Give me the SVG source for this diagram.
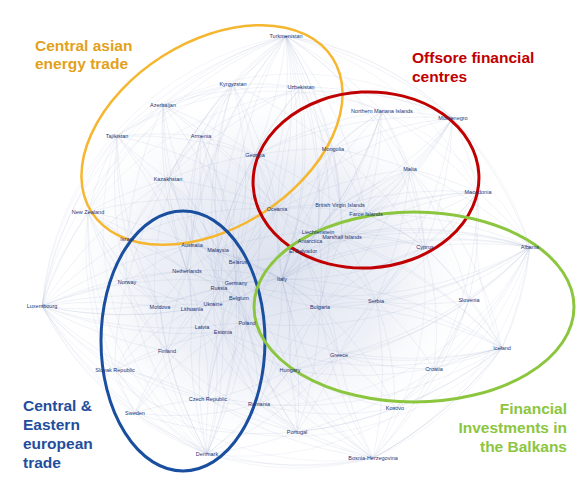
<svg xmlns="http://www.w3.org/2000/svg" width="581" height="478" viewBox="0 0 581 478">
<style>
.e path{fill:none;stroke:#8495C2;stroke-width:.5;stroke-opacity:.25}
.e .o{stroke-opacity:.18}
.lbl{font-family:"Liberation Sans",Arial,sans-serif;font-size:5.5px;fill:#1F3575;text-anchor:middle}
.ttl{font-family:"Liberation Sans",Arial,sans-serif;font-size:15.5px;font-weight:bold}
.ring{fill:none}
</style>
<defs>
<radialGradient id="haze" cx="0.5" cy="0.5" r="0.5">
<stop offset="0" stop-color="#C3CCE2" stop-opacity=".6"/>
<stop offset=".55" stop-color="#D3DAEA" stop-opacity=".4"/>
<stop offset="1" stop-color="#FFFFFF" stop-opacity="0"/>
</radialGradient>
</defs>
<rect width="581" height="478" fill="#FFFFFF"/>
<ellipse cx="270" cy="270" rx="220" ry="190" fill="url(#haze)"/>
<g id="connectors" class="e">
<path d="M286 36A400 400 0 0 1 233 84"/><path d="M286 36A400 400 0 0 1 301 87"/><path d="M286 36A400 400 0 0 0 163 105"/><path d="M286 36A400 400 0 0 0 201 136"/><path d="M286 36A400 400 0 0 1 255 155"/><path d="M286 36A400 400 0 0 1 333 149"/><path d="M286 36A400 400 0 0 0 168 179"/><path d="M286 36A400 400 0 0 1 277 209"/><path d="M286 36A400 400 0 0 0 192 245"/><path d="M286 36A400 400 0 0 1 238 262"/><path d="M286 36A400 400 0 0 0 236 283"/><path d="M286 36A400 400 0 0 1 282 279"/><path d="M286 36A400 400 0 0 0 219 288"/><path d="M286 36A400 400 0 0 1 410 169"/><path d="M286 36A400 400 0 0 1 340 205"/><path d="M286 36A400 400 0 0 0 187 271"/><path d="M286 36A400 400 0 0 0 117 136"/><path d="M286 36A400 400 0 0 0 88 212"/><path d="M286 36A400 400 0 0 1 247 323"/><path d="M286 36A400 400 0 0 1 320 307"/><path d="M286 36A400 400 0 0 1 382 111"/><path d="M286 36A400 400 0 0 1 453 118"/><path d="M286 36A400 400 0 0 1 318 232"/><path d="M286 36A400 400 0 0 1 366 214"/>
<path d="M530 247A400 400 0 0 0 425 247"/><path d="M530 247A400 400 0 0 1 469 300"/><path d="M530 247A400 400 0 0 0 478 192"/><path d="M530 247A400 400 0 0 0 410 169"/><path d="M530 247A400 400 0 0 1 376 301"/><path d="M530 247A400 400 0 0 1 320 307"/><path d="M530 247A400 400 0 0 0 282 279"/><path d="M530 247A400 400 0 0 1 339 355"/><path d="M530 247A400 400 0 0 1 434 369"/><path d="M530 247A400 400 0 0 1 502 348"/><path d="M530 247A400 400 0 0 0 366 214"/><path d="M530 247A400 400 0 0 0 342 237"/><path d="M530 247A400 400 0 0 1 236 283"/><path d="M530 247A400 400 0 0 1 290 370"/><path d="M530 247A400 400 0 0 1 395 408"/><path d="M530 247A400 400 0 0 0 453 118"/><path d="M530 247A400 400 0 0 0 239 298"/><path d="M530 247A400 400 0 0 1 247 323"/><path d="M530 247A400 400 0 0 0 303 251"/><path d="M530 247A400 400 0 0 0 310 241"/>
<path d="M42 306A400 400 0 0 1 88 212"/><path d="M42 306A400 400 0 0 1 127 282"/><path d="M42 306A400 400 0 0 1 160 307"/><path d="M42 306A400 400 0 0 1 187 271"/><path d="M42 306A400 400 0 0 1 192 245"/><path d="M42 306A400 400 0 0 0 192 309"/><path d="M42 306A400 400 0 0 0 202 327"/><path d="M42 306A400 400 0 0 0 167 351"/><path d="M42 306A400 400 0 0 0 115 370"/><path d="M42 306A400 400 0 0 0 135 413"/><path d="M42 306A400 400 0 0 1 127 239"/><path d="M42 306A400 400 0 0 1 236 283"/><path d="M42 306A400 400 0 0 0 219 288"/><path d="M42 306A400 400 0 0 0 208 399"/><path d="M42 306A400 400 0 0 1 117 136"/><path d="M42 306A400 400 0 0 1 168 179"/><path d="M42 306A400 400 0 0 0 207 454"/><path d="M42 306A400 400 0 0 0 239 298"/><path d="M42 306A400 400 0 0 1 213 304"/><path d="M42 306A400 400 0 0 0 223 332"/>
<path d="M502 348A400 400 0 0 0 434 369"/><path d="M502 348A400 400 0 0 0 469 300"/><path d="M502 348A400 400 0 0 0 425 247"/><path d="M502 348A400 400 0 0 0 376 301"/><path d="M502 348A400 400 0 0 1 339 355"/><path d="M502 348A400 400 0 0 0 320 307"/><path d="M502 348A400 400 0 0 1 290 370"/><path d="M502 348A400 400 0 0 1 395 408"/><path d="M502 348A400 400 0 0 0 282 279"/><path d="M502 348A400 400 0 0 0 318 232"/><path d="M502 348A400 400 0 0 1 259 404"/><path d="M502 348A400 400 0 0 1 297 432"/><path d="M502 348A400 400 0 0 0 410 169"/><path d="M502 348A400 400 0 0 1 373 458"/><path d="M502 348A400 400 0 0 1 247 323"/><path d="M502 348A400 400 0 0 1 223 332"/><path d="M502 348A400 400 0 0 0 342 237"/>
<path d="M207 454A400 400 0 0 1 135 413"/><path d="M207 454A400 400 0 0 1 208 399"/><path d="M207 454A400 400 0 0 0 259 404"/><path d="M207 454A400 400 0 0 1 167 351"/><path d="M207 454A400 400 0 0 1 115 370"/><path d="M207 454A400 400 0 0 1 202 327"/><path d="M207 454A400 400 0 0 0 223 332"/><path d="M207 454A400 400 0 0 0 247 323"/><path d="M207 454A400 400 0 0 0 290 370"/><path d="M207 454A400 400 0 0 1 192 309"/><path d="M207 454A400 400 0 0 0 213 304"/><path d="M207 454A400 400 0 0 1 160 307"/><path d="M207 454A400 400 0 0 0 297 432"/><path d="M207 454A400 400 0 0 0 236 283"/><path d="M207 454A400 400 0 0 0 239 298"/><path d="M207 454A400 400 0 0 1 127 282"/><path d="M207 454A400 400 0 0 0 339 355"/><path d="M207 454A400 400 0 0 0 373 458"/>
<path d="M373 458A400 400 0 0 1 297 432"/><path d="M373 458A400 400 0 0 0 395 408"/><path d="M373 458A400 400 0 0 0 434 369"/><path d="M373 458A400 400 0 0 1 339 355"/><path d="M373 458A400 400 0 0 1 290 370"/><path d="M373 458A400 400 0 0 1 259 404"/><path d="M373 458A400 400 0 0 0 376 301"/><path d="M373 458A400 400 0 0 1 320 307"/><path d="M373 458A400 400 0 0 1 282 279"/><path d="M373 458A400 400 0 0 1 208 399"/><path d="M373 458A400 400 0 0 0 502 348"/><path d="M373 458A400 400 0 0 0 469 300"/><path d="M373 458A400 400 0 0 1 247 323"/><path d="M373 458A400 400 0 0 1 223 332"/><path d="M373 458A400 400 0 0 1 239 298"/>
<path d="M297 432A400 400 0 0 1 259 404"/><path d="M297 432A400 400 0 0 0 290 370"/><path d="M297 432A400 400 0 0 1 208 399"/><path d="M297 432A400 400 0 0 0 339 355"/><path d="M297 432A400 400 0 0 0 395 408"/><path d="M297 432A400 400 0 0 1 223 332"/><path d="M297 432A400 400 0 0 1 202 327"/><path d="M297 432A400 400 0 0 0 320 307"/><path d="M297 432A400 400 0 0 0 282 279"/><path d="M297 432A400 400 0 0 1 247 323"/><path d="M297 432A400 400 0 0 1 135 413"/><path d="M297 432A400 400 0 0 1 167 351"/><path d="M297 432A400 400 0 0 1 239 298"/><path d="M297 432A400 400 0 0 0 434 369"/>
<path d="M453 118A400 400 0 0 0 382 111"/><path d="M453 118A400 400 0 0 1 410 169"/><path d="M453 118A400 400 0 0 0 333 149"/><path d="M453 118A400 400 0 0 1 478 192"/><path d="M453 118A400 400 0 0 1 340 205"/><path d="M453 118A400 400 0 0 1 366 214"/><path d="M453 118A400 400 0 0 1 425 247"/><path d="M453 118A400 400 0 0 1 342 237"/><path d="M453 118A400 400 0 0 1 318 232"/><path d="M453 118A400 400 0 0 0 277 209"/><path d="M453 118A400 400 0 0 0 255 155"/><path d="M453 118A400 400 0 0 0 301 87"/><path d="M453 118A400 400 0 0 1 282 279"/><path d="M453 118A400 400 0 0 1 376 301"/>
<path d="M382 111A400 400 0 0 0 333 149"/><path d="M382 111A400 400 0 0 1 410 169"/><path d="M382 111A400 400 0 0 0 301 87"/><path d="M382 111A400 400 0 0 0 255 155"/><path d="M382 111A400 400 0 0 1 340 205"/><path d="M382 111A400 400 0 0 1 366 214"/><path d="M382 111A400 400 0 0 0 277 209"/><path d="M382 111A400 400 0 0 1 318 232"/><path d="M382 111A400 400 0 0 1 342 237"/><path d="M382 111A400 400 0 0 1 425 247"/><path d="M382 111A400 400 0 0 1 478 192"/><path d="M382 111A400 400 0 0 0 282 279"/><path d="M382 111A400 400 0 0 1 310 241"/>
<path d="M478 192A400 400 0 0 0 410 169"/><path d="M478 192A400 400 0 0 1 425 247"/><path d="M478 192A400 400 0 0 0 366 214"/><path d="M478 192A400 400 0 0 1 342 237"/><path d="M478 192A400 400 0 0 0 340 205"/><path d="M478 192A400 400 0 0 1 469 300"/><path d="M478 192A400 400 0 0 1 376 301"/><path d="M478 192A400 400 0 0 1 320 307"/><path d="M478 192A400 400 0 0 0 282 279"/><path d="M478 192A400 400 0 0 1 434 369"/><path d="M478 192A400 400 0 0 0 318 232"/>
<path d="M117 136A400 400 0 0 1 163 105"/><path d="M117 136A400 400 0 0 1 201 136"/><path d="M117 136A400 400 0 0 0 168 179"/><path d="M117 136A400 400 0 0 1 233 84"/><path d="M117 136A400 400 0 0 0 88 212"/><path d="M117 136A400 400 0 0 0 127 239"/><path d="M117 136A400 400 0 0 1 192 245"/><path d="M117 136A400 400 0 0 0 127 282"/><path d="M117 136A400 400 0 0 1 187 271"/><path d="M117 136A400 400 0 0 1 255 155"/><path d="M117 136A400 400 0 0 0 160 307"/><path d="M117 136A400 400 0 0 1 277 209"/>
<path d="M163 105A400 400 0 0 1 201 136"/><path d="M163 105A400 400 0 0 1 233 84"/><path d="M163 105A400 400 0 0 0 168 179"/><path d="M163 105A400 400 0 0 1 255 155"/><path d="M163 105A400 400 0 0 0 192 245"/><path d="M163 105A400 400 0 0 1 277 209"/><path d="M163 105A400 400 0 0 1 238 262"/><path d="M163 105A400 400 0 0 0 218 250"/><path d="M163 105A400 400 0 0 0 187 271"/><path d="M163 105A400 400 0 0 1 301 87"/><path d="M163 105A400 400 0 0 0 127 239"/>
<path d="M233 84A400 400 0 0 0 201 136"/><path d="M233 84A400 400 0 0 1 255 155"/><path d="M233 84A400 400 0 0 1 301 87"/><path d="M233 84A400 400 0 0 0 168 179"/><path d="M233 84A400 400 0 0 1 333 149"/><path d="M233 84A400 400 0 0 1 277 209"/><path d="M233 84A400 400 0 0 0 192 245"/><path d="M233 84A400 400 0 0 0 218 250"/><path d="M233 84A400 400 0 0 1 238 262"/><path d="M233 84A400 400 0 0 0 219 288"/>
<path d="M301 87A400 400 0 0 0 255 155"/><path d="M301 87A400 400 0 0 1 333 149"/><path d="M301 87A400 400 0 0 0 277 209"/><path d="M301 87A400 400 0 0 0 168 179"/><path d="M301 87A400 400 0 0 0 201 136"/><path d="M301 87A400 400 0 0 1 340 205"/><path d="M301 87A400 400 0 0 1 318 232"/><path d="M301 87A400 400 0 0 0 218 250"/><path d="M301 87A400 400 0 0 1 282 279"/>
<path d="M201 136A400 400 0 0 1 255 155"/><path d="M201 136A400 400 0 0 0 168 179"/><path d="M201 136A400 400 0 0 0 192 245"/><path d="M201 136A400 400 0 0 1 218 250"/><path d="M201 136A400 400 0 0 0 187 271"/><path d="M201 136A400 400 0 0 1 238 262"/><path d="M201 136A400 400 0 0 1 277 209"/><path d="M201 136A400 400 0 0 0 219 288"/><path d="M201 136A400 400 0 0 1 236 283"/><path d="M201 136A400 400 0 0 0 127 239"/>
<path d="M255 155A400 400 0 0 0 168 179"/><path d="M255 155A400 400 0 0 1 277 209"/><path d="M255 155A400 400 0 0 1 333 149"/><path d="M255 155A400 400 0 0 0 218 250"/><path d="M255 155A400 400 0 0 1 238 262"/><path d="M255 155A400 400 0 0 0 236 283"/><path d="M255 155A400 400 0 0 1 282 279"/><path d="M255 155A400 400 0 0 1 318 232"/><path d="M255 155A400 400 0 0 1 340 205"/><path d="M255 155A400 400 0 0 0 219 288"/><path d="M255 155A400 400 0 0 1 247 323"/>
<path d="M168 179A400 400 0 0 0 127 239"/><path d="M168 179A400 400 0 0 1 192 245"/><path d="M168 179A400 400 0 0 0 187 271"/><path d="M168 179A400 400 0 0 1 218 250"/><path d="M168 179A400 400 0 0 1 277 209"/><path d="M168 179A400 400 0 0 1 219 288"/><path d="M168 179A400 400 0 0 0 127 282"/><path d="M168 179A400 400 0 0 1 238 262"/><path d="M168 179A400 400 0 0 0 236 283"/><path d="M168 179A400 400 0 0 0 88 212"/>
<path d="M88 212A400 400 0 0 1 127 239"/><path d="M88 212A400 400 0 0 1 192 245"/><path d="M88 212A400 400 0 0 0 127 282"/><path d="M88 212A400 400 0 0 1 187 271"/><path d="M88 212A400 400 0 0 0 160 307"/><path d="M88 212A400 400 0 0 1 192 309"/><path d="M88 212A400 400 0 0 1 277 209"/><path d="M88 212A400 400 0 0 0 167 351"/><path d="M88 212A400 400 0 0 0 115 370"/>
<path d="M333 149A400 400 0 0 1 410 169"/><path d="M333 149A400 400 0 0 1 340 205"/><path d="M333 149A400 400 0 0 0 277 209"/><path d="M333 149A400 400 0 0 0 318 232"/><path d="M333 149A400 400 0 0 1 366 214"/><path d="M333 149A400 400 0 0 1 342 237"/><path d="M333 149A400 400 0 0 0 282 279"/><path d="M333 149A400 400 0 0 0 303 251"/><path d="M333 149A400 400 0 0 1 425 247"/>
<path d="M410 169A400 400 0 0 0 340 205"/><path d="M410 169A400 400 0 0 1 366 214"/><path d="M410 169A400 400 0 0 1 425 247"/><path d="M410 169A400 400 0 0 0 342 237"/><path d="M410 169A400 400 0 0 0 318 232"/><path d="M410 169A400 400 0 0 0 277 209"/><path d="M410 169A400 400 0 0 1 282 279"/><path d="M410 169A400 400 0 0 1 376 301"/><path d="M410 169A400 400 0 0 1 469 300"/><path d="M410 169A400 400 0 0 1 320 307"/>
<path d="M192 245A300 300 0 0 1 218 250"/><path d="M192 245A300 300 0 0 1 238 262"/><path d="M192 245A300 300 0 0 0 187 271"/><path d="M192 245A300 300 0 0 1 236 283"/><path d="M192 245A300 300 0 0 0 219 288"/><path d="M192 245A300 300 0 0 1 282 279"/><path d="M192 245A300 300 0 0 1 277 209"/><path d="M192 245A300 300 0 0 0 127 282"/><path d="M192 245A300 300 0 0 0 192 309"/><path d="M192 245A300 300 0 0 1 247 323"/><path d="M192 245A300 300 0 0 1 320 307"/>
<path d="M218 250A300 300 0 0 1 238 262"/><path d="M218 250A300 300 0 0 1 236 283"/><path d="M218 250A300 300 0 0 0 277 209"/><path d="M218 250A300 300 0 0 1 282 279"/><path d="M218 250A300 300 0 0 0 187 271"/><path d="M218 250A300 300 0 0 0 213 304"/><path d="M218 250A300 300 0 0 1 318 232"/><path d="M218 250A300 300 0 0 1 223 332"/>
<path d="M238 262A300 300 0 0 1 236 283"/><path d="M238 262A300 300 0 0 0 219 288"/><path d="M238 262A300 300 0 0 1 239 298"/><path d="M238 262A300 300 0 0 1 282 279"/><path d="M238 262A300 300 0 0 1 247 323"/><path d="M238 262A300 300 0 0 0 277 209"/><path d="M238 262A300 300 0 0 0 213 304"/><path d="M238 262A300 300 0 0 0 303 251"/>
<path d="M187 271A300 300 0 0 1 236 283"/><path d="M187 271A300 300 0 0 1 239 298"/><path d="M187 271A300 300 0 0 1 219 288"/><path d="M187 271A300 300 0 0 0 127 282"/><path d="M187 271A300 300 0 0 0 160 307"/><path d="M187 271A300 300 0 0 1 192 309"/><path d="M187 271A300 300 0 0 0 167 351"/><path d="M187 271A300 300 0 0 1 282 279"/><path d="M187 271A300 300 0 0 1 202 327"/>
<path d="M236 283A300 300 0 0 0 219 288"/><path d="M236 283A300 300 0 0 1 239 298"/><path d="M236 283A300 300 0 0 1 247 323"/><path d="M236 283A300 300 0 0 0 282 279"/><path d="M236 283A300 300 0 0 0 213 304"/><path d="M236 283A300 300 0 0 1 223 332"/><path d="M236 283A300 300 0 0 1 290 370"/><path d="M236 283A300 300 0 0 0 320 307"/><path d="M236 283A300 300 0 0 0 318 232"/><path d="M236 283A300 300 0 0 0 277 209"/><path d="M236 283A300 300 0 0 0 208 399"/>
<path d="M219 288A300 300 0 0 0 213 304"/><path d="M219 288A300 300 0 0 1 239 298"/><path d="M219 288A300 300 0 0 0 192 309"/><path d="M219 288A300 300 0 0 1 202 327"/><path d="M219 288A300 300 0 0 0 160 307"/><path d="M219 288A300 300 0 0 0 167 351"/><path d="M219 288A300 300 0 0 1 247 323"/><path d="M219 288A300 300 0 0 1 282 279"/><path d="M219 288A300 300 0 0 1 223 332"/>
<path d="M282 279A300 300 0 0 1 320 307"/><path d="M282 279A300 300 0 0 0 376 301"/><path d="M282 279A300 300 0 0 1 339 355"/><path d="M282 279A300 300 0 0 1 290 370"/><path d="M282 279A300 300 0 0 0 303 251"/><path d="M282 279A300 300 0 0 1 310 241"/><path d="M282 279A300 300 0 0 0 318 232"/><path d="M282 279A300 300 0 0 1 277 209"/><path d="M282 279A300 300 0 0 1 247 323"/><path d="M282 279A300 300 0 0 0 239 298"/><path d="M282 279A300 300 0 0 1 259 404"/><path d="M282 279A300 300 0 0 0 425 247"/><path d="M282 279A300 300 0 0 1 342 237"/>
<path d="M277 209A300 300 0 0 1 340 205"/><path d="M277 209A300 300 0 0 1 318 232"/><path d="M277 209A300 300 0 0 0 310 241"/><path d="M277 209A300 300 0 0 1 303 251"/><path d="M277 209A300 300 0 0 0 342 237"/><path d="M277 209A300 300 0 0 1 366 214"/><path d="M277 209A300 300 0 0 0 238 262"/>
<path d="M340 205A300 300 0 0 1 366 214"/><path d="M340 205A300 300 0 0 1 342 237"/><path d="M340 205A300 300 0 0 0 318 232"/><path d="M340 205A300 300 0 0 1 425 247"/><path d="M340 205A300 300 0 0 0 303 251"/><path d="M340 205A300 300 0 0 1 310 241"/>
<path d="M318 232A300 300 0 0 1 342 237"/><path d="M318 232A300 300 0 0 0 310 241"/><path d="M318 232A300 300 0 0 1 366 214"/><path d="M318 232A300 300 0 0 1 425 247"/><path d="M318 232A300 300 0 0 1 320 307"/><path d="M318 232A300 300 0 0 1 376 301"/>
<path d="M342 237A300 300 0 0 0 366 214"/><path d="M342 237A300 300 0 0 1 425 247"/><path d="M342 237A300 300 0 0 1 376 301"/><path d="M342 237A300 300 0 0 0 320 307"/><path d="M342 237A300 300 0 0 0 303 251"/>
<path d="M303 251A300 300 0 0 1 320 307"/><path d="M303 251A300 300 0 0 0 290 370"/><path d="M303 251A300 300 0 0 1 339 355"/><path d="M303 251A300 300 0 0 1 376 301"/>
<path d="M425 247A300 300 0 0 0 376 301"/><path d="M425 247A300 300 0 0 1 469 300"/><path d="M425 247A300 300 0 0 0 366 214"/><path d="M425 247A300 300 0 0 0 339 355"/><path d="M425 247A300 300 0 0 1 434 369"/><path d="M425 247A300 300 0 0 0 320 307"/>
<path d="M376 301A300 300 0 0 0 320 307"/><path d="M376 301A300 300 0 0 1 339 355"/><path d="M376 301A300 300 0 0 0 469 300"/><path d="M376 301A300 300 0 0 1 434 369"/><path d="M376 301A300 300 0 0 1 395 408"/><path d="M376 301A300 300 0 0 1 290 370"/>
<path d="M320 307A300 300 0 0 1 339 355"/><path d="M320 307A300 300 0 0 0 290 370"/><path d="M320 307A300 300 0 0 0 247 323"/><path d="M320 307A300 300 0 0 0 259 404"/><path d="M320 307A300 300 0 0 1 395 408"/>
<path d="M339 355A300 300 0 0 1 290 370"/><path d="M339 355A300 300 0 0 0 434 369"/><path d="M339 355A300 300 0 0 1 395 408"/><path d="M339 355A300 300 0 0 1 259 404"/><path d="M339 355A300 300 0 0 0 469 300"/>
<path d="M290 370A300 300 0 0 1 259 404"/><path d="M290 370A300 300 0 0 0 247 323"/><path d="M290 370A300 300 0 0 1 223 332"/><path d="M290 370A300 300 0 0 1 208 399"/><path d="M290 370A300 300 0 0 0 395 408"/>
<path d="M247 323A300 300 0 0 1 223 332"/><path d="M247 323A300 300 0 0 0 202 327"/><path d="M247 323A300 300 0 0 0 239 298"/><path d="M247 323A300 300 0 0 0 213 304"/><path d="M247 323A300 300 0 0 1 259 404"/><path d="M247 323A300 300 0 0 1 208 399"/>
<path d="M213 304A300 300 0 0 0 192 309"/><path d="M213 304A300 300 0 0 0 160 307"/><path d="M213 304A300 300 0 0 1 239 298"/><path d="M213 304A300 300 0 0 1 202 327"/><path d="M213 304A300 300 0 0 1 223 332"/>
<path d="M192 309A300 300 0 0 0 160 307"/><path d="M192 309A300 300 0 0 1 202 327"/><path d="M192 309A300 300 0 0 1 223 332"/><path d="M192 309A300 300 0 0 0 167 351"/>
<path d="M202 327A300 300 0 0 1 223 332"/><path d="M202 327A300 300 0 0 0 167 351"/><path d="M202 327A300 300 0 0 1 208 399"/>
<path d="M167 351A300 300 0 0 0 115 370"/><path d="M167 351A300 300 0 0 0 135 413"/><path d="M167 351A300 300 0 0 1 208 399"/><path d="M167 351A300 300 0 0 1 160 307"/><path d="M167 351A300 300 0 0 1 127 282"/>
<path d="M127 282A300 300 0 0 1 160 307"/><path d="M127 282A300 300 0 0 1 192 309"/><path d="M127 282A300 300 0 0 0 115 370"/><path d="M127 282A300 300 0 0 1 127 239"/>
<path d="M115 370A300 300 0 0 0 135 413"/><path d="M115 370A300 300 0 0 1 208 399"/><path d="M115 370A300 300 0 0 1 160 307"/><path d="M115 370A300 300 0 0 1 192 309"/><path d="M115 370A300 300 0 0 1 223 332"/>
<path d="M135 413A300 300 0 0 1 208 399"/><path d="M135 413A300 300 0 0 1 202 327"/><path d="M135 413A300 300 0 0 1 223 332"/><path d="M135 413A300 300 0 0 0 259 404"/>
<path d="M208 399A300 300 0 0 1 259 404"/><path d="M208 399A300 300 0 0 1 223 332"/><path d="M208 399A300 300 0 0 1 239 298"/>
<path d="M259 404A300 300 0 0 1 223 332"/><path d="M259 404A300 300 0 0 0 395 408"/><path d="M259 404A300 300 0 0 1 239 298"/>
<path d="M395 408A300 300 0 0 0 434 369"/><path d="M395 408A300 300 0 0 0 469 300"/><path d="M434 369A300 300 0 0 0 469 300"/>
<path d="M127 239A300 300 0 0 1 192 245"/><path d="M127 239A300 300 0 0 1 187 271"/><path d="M127 239A300 300 0 0 0 160 307"/><path d="M127 239A300 300 0 0 1 277 209"/>
<path class="o" d="M42 306A300 300 0 0 1 286 36"/><path class="o" d="M42 306A300 300 0 0 1 163 105"/><path class="o" d="M42 306A300 300 0 0 1 233 84"/><path class="o" d="M135 413A300 300 0 0 1 42 306"/><path class="o" d="M207 454A300 300 0 0 1 42 306"/><path class="o" d="M373 458A300 300 0 0 1 207 454"/><path class="o" d="M373 458A300 300 0 0 1 135 413"/><path class="o" d="M373 458A300 300 0 0 1 115 370"/><path class="o" d="M502 348A300 300 0 0 1 373 458"/><path class="o" d="M530 247A300 300 0 0 1 502 348"/><path class="o" d="M530 247A300 300 0 0 1 373 458"/><path class="o" d="M286 36A300 300 0 0 1 530 247"/><path class="o" d="M286 36A300 300 0 0 1 453 118"/><path class="o" d="M286 36A300 300 0 0 1 478 192"/><path class="o" d="M42 306A300 300 0 0 1 117 136"/><path class="o" d="M42 306A300 300 0 0 0 530 247"/><path class="o" d="M286 36A300 300 0 0 0 207 454"/><path class="o" d="M286 36A300 300 0 0 1 373 458"/><path class="o" d="M530 247A300 300 0 0 1 207 454"/><path class="o" d="M42 306A300 300 0 0 0 502 348"/><path class="o" d="M453 118A300 300 0 0 0 42 306"/><path class="o" d="M117 136A300 300 0 0 0 207 454"/><path class="o" d="M88 212A300 300 0 0 0 207 454"/><path class="o" d="M163 105A300 300 0 0 1 453 118"/><path class="o" d="M117 136A300 300 0 0 1 382 111"/><path class="o" d="M502 348A300 300 0 0 1 478 192"/><path class="o" d="M530 247A300 300 0 0 0 382 111"/><path class="o" d="M88 212A300 300 0 0 1 286 36"/><path class="o" d="M135 413A300 300 0 0 1 88 212"/><path class="o" d="M207 454A300 300 0 0 1 115 370"/>
</g>
<g id="rings">
<ellipse class="ring" cx="212" cy="135" rx="143" ry="93" transform="rotate(-32.5 212 135)" stroke="#F5B630" stroke-width="2.5"/>
<ellipse class="ring" cx="366" cy="180" rx="113" ry="88" transform="rotate(-3 366 180)" stroke="#C00000" stroke-width="3"/>
<ellipse class="ring" cx="183" cy="341" rx="82" ry="130" stroke="#1A4FA0" stroke-width="3"/>
<ellipse class="ring" cx="414" cy="307" rx="160" ry="95" stroke="#8CC63F" stroke-width="3"/>
</g>
<g id="titles">
<g id="t-asia" class="ttl" fill="#E2A11B"><text x="35" y="51">Central asian</text><text x="35" y="69">energy trade</text></g>
<g id="t-offshore" class="ttl" fill="#C00000"><text x="412" y="63">Offsore financial</text><text x="412" y="82">centres</text></g>
<g id="t-cee" class="ttl" fill="#1F4E9C"><text x="23" y="411">Central &amp;</text><text x="23" y="430">Eastern</text><text x="23" y="449">european</text><text x="23" y="468">trade</text></g>
<g id="t-balkans" class="ttl" fill="#8CC63F" text-anchor="end"><text x="567" y="414">Financial</text><text x="567" y="433">Investments in</text><text x="567" y="452">the Balkans</text></g>
</g>
<g id="nodes" class="lbl">
<g id="n-turkmenistan"><text x="286" y="38">Turkmenistan</text></g>
<g id="n-kyrgyzstan"><text x="233" y="86">Kyrgyzstan</text></g>
<g id="n-uzbekistan"><text x="301" y="89">Uzbekistan</text></g>
<g id="n-azerbaijan"><text x="163" y="107">Azerbaijan</text></g>
<g id="n-tajikistan"><text x="117" y="138">Tajikistan</text></g>
<g id="n-armenia"><text x="201" y="138">Armenia</text></g>
<g id="n-georgia"><text x="255" y="157">Georgia</text></g>
<g id="n-mongolia"><text x="333" y="151">Mongolia</text></g>
<g id="n-nmi"><text x="382" y="113">Northern Mariana Islands</text></g>
<g id="n-montenegro"><text x="453" y="120">Montenegro</text></g>
<g id="n-malta"><text x="410" y="171">Malta</text></g>
<g id="n-macedonia"><text x="478" y="194">Macedonia</text></g>
<g id="n-kazakhstan"><text x="168" y="181">Kazakhstan</text></g>
<g id="n-newzealand"><text x="88" y="214">New Zealand</text></g>
<g id="n-israel"><text x="127" y="241">Israel</text></g>
<g id="n-oceania"><text x="277" y="211">Oceania</text></g>
<g id="n-bvi"><text x="340" y="207">British Virgin Islands</text></g>
<g id="n-faroe"><text x="366" y="216">Faroe Islands</text></g>
<g id="n-liechtenstein"><text x="318" y="234">Liechtenstein</text></g>
<g id="n-marshall"><text x="342" y="239">Marshall Islands</text></g>
<g id="n-antarctica"><text x="310" y="243">Antarctica</text></g>
<g id="n-elsalvador"><text x="303" y="253">El Salvador</text></g>
<g id="n-cyprus"><text x="425" y="249">Cyprus</text></g>
<g id="n-albania"><text x="530" y="249">Albania</text></g>
<g id="n-australia"><text x="192" y="247">Australia</text></g>
<g id="n-malaysia"><text x="218" y="252">Malaysia</text></g>
<g id="n-belarus"><text x="238" y="264">Belarus</text></g>
<g id="n-netherlands"><text x="187" y="273">Netherlands</text></g>
<g id="n-norway"><text x="127" y="284">Norway</text></g>
<g id="n-germany"><text x="236" y="285">Germany</text></g>
<g id="n-russia"><text x="219" y="290">Russia</text></g>
<g id="n-italy"><text x="282" y="281">Italy</text></g>
<g id="n-belgium"><text x="239" y="300">Belgium</text></g>
<g id="n-slovenia"><text x="469" y="302">Slovenia</text></g>
<g id="n-serbia"><text x="376" y="303">Serbia</text></g>
<g id="n-bulgaria"><text x="320" y="309">Bulgaria</text></g>
<g id="n-ukraine"><text x="213" y="306">Ukraine</text></g>
<g id="n-lithuania"><text x="192" y="311">Lithuania</text></g>
<g id="n-moldova"><text x="160" y="309">Moldova</text></g>
<g id="n-luxembourg"><text x="42" y="308">Luxembourg</text></g>
<g id="n-poland"><text x="247" y="325">Poland</text></g>
<g id="n-latvia"><text x="202" y="329">Latvia</text></g>
<g id="n-estonia"><text x="223" y="334">Estonia</text></g>
<g id="n-iceland"><text x="502" y="350">Iceland</text></g>
<g id="n-finland"><text x="167" y="353">Finland</text></g>
<g id="n-greece"><text x="339" y="357">Greece</text></g>
<g id="n-croatia"><text x="434" y="371">Croatia</text></g>
<g id="n-hungary"><text x="290" y="372">Hungary</text></g>
<g id="n-slovakia"><text x="115" y="372">Slovak Republic</text></g>
<g id="n-czech"><text x="208" y="401">Czech Republic</text></g>
<g id="n-romania"><text x="259" y="406">Romania</text></g>
<g id="n-kosovo"><text x="395" y="410">Kosovo</text></g>
<g id="n-sweden"><text x="135" y="415">Sweden</text></g>
<g id="n-portugal"><text x="297" y="434">Portugal</text></g>
<g id="n-denmark"><text x="207" y="456">Denmark</text></g>
<g id="n-bosnia"><text x="373" y="460">Bosnia-Herzegovina</text></g>
</g>
</svg>
